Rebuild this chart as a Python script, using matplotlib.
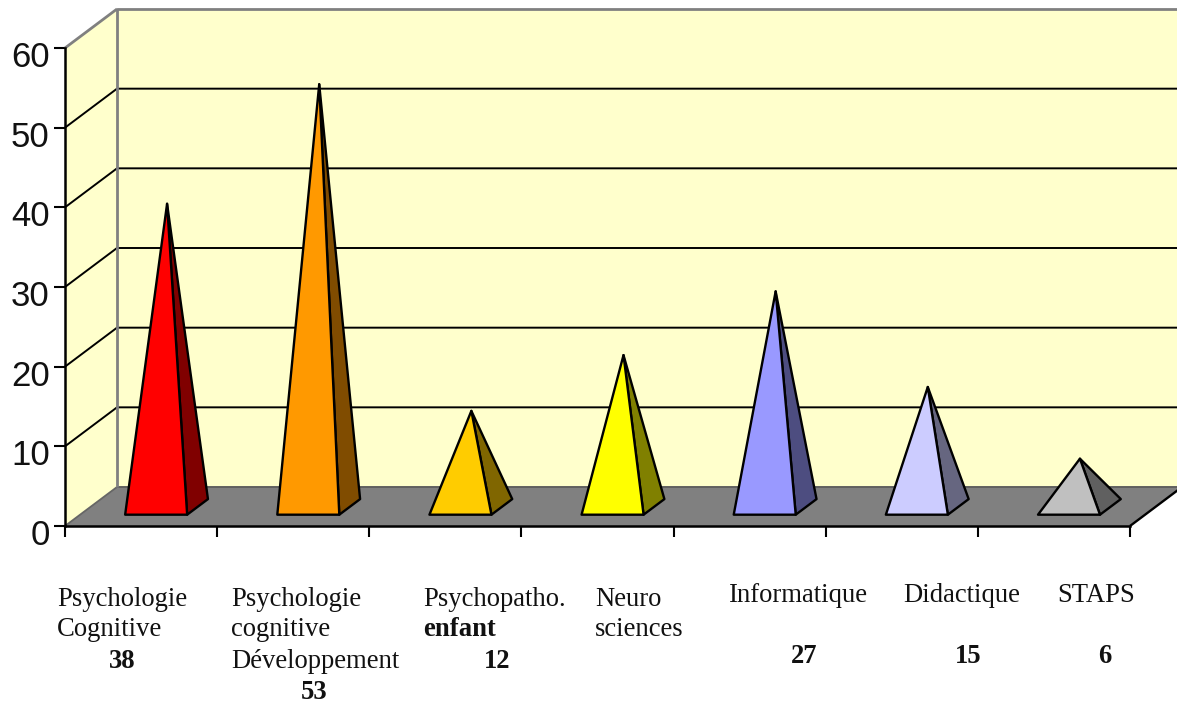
import matplotlib
matplotlib.use('Agg')
import matplotlib.pyplot as plt
from matplotlib.patches import Polygon
from matplotlib.transforms import ScaledTranslation

# values
values = [38, 53, 12, 19, 27, 15, 6]
front_colors = ['#ff0000', '#ff9900', '#ffcc00', '#ffff00', '#9999ff', '#ccccff', '#c0c0c0']
side_colors = ['#800000', '#804c00', '#806600', '#808000', '#4d4d80', '#666680', '#606060']
y_ticks = [0, 10, 20, 30, 40, 50, 60]

# label lines: text, x px, baseline px, bold
label_lines = [
    ('Psychologie', 57, 606, False), ('Cognitive', 57, 636, False), ('38', 109, 668, True),
    ('Psychologie', 231, 606, False), ('cognitive', 231, 636, False),
    ('Développement', 231, 668, False), ('53', 301, 699, True),
    ('Psychopatho.', 423, 606, False), ('enfant', 423, 636, True), ('12', 484, 668, True),
    ('Neuro', 595, 606, False), ('sciences', 595, 636, False),
    ('Informatique', 729, 602, False), ('27', 791, 663, True),
    ('Didactique', 903, 602, False), ('15', 955, 663, True),
    ('STAPS', 1057, 602, False), ('6', 1098, 663, True),
]

W, H = 1177, 704
X0, X1, Y0, Y60 = 65, 1130, 526, 48
CAT_PX = (X1 - X0) / 7
VAL_PX = (Y0 - Y60) / 60
DX = 52 / CAT_PX
DY = 39 / VAL_PX
HALF = 31 / CAT_PX
D_FRONT, D_BACK = 0.29, 0.69


def proj(c, v, d=0.0):
    return (c + d * DX, v + d * DY)


fig = plt.figure(figsize=(W / 100, H / 100), dpi=100)
ax = fig.add_axes([X0 / W, 1 - Y0 / H, (X1 - X0) / W, (Y0 - Y60) / H])
ax.set_xlim(0, 7)
ax.set_ylim(0, 60)
ax.patch.set_visible(False)

n = len(values)
# walls and floor (run past the right edge, the figure cuts them)
ax.add_patch(Polygon([proj(0, 0, 1), proj(8, 0, 1), proj(8, 60, 1), proj(0, 60, 1)],
                     fc='#ffffcc', ec='none', clip_on=False, zorder=1))
ax.add_patch(Polygon([proj(0, 0), proj(0, 0, 1), proj(0, 60, 1), proj(0, 60)],
                     fc='#ffffcc', ec='none', clip_on=False, zorder=1))
ax.add_patch(Polygon([proj(0, 0), proj(n, 0), proj(n, 0, 1), proj(8, 0, 1), proj(0, 0, 1)],
                     fc='#808080', ec='none', clip_on=False, zorder=2))


def line(pts, color, lw, z=3):
    ax.plot(*zip(*pts), color=color, lw=lw, clip_on=False, zorder=z, solid_capstyle='butt')


for v in y_ticks[1:-1]:
    line([proj(0, v), proj(0, v, 1), proj(8, v, 1)], 'black', 1.4)
line([proj(0, 0), proj(0, 0, 1)], '#666666', 1.3)
line([proj(0, 0, 1), proj(8, 0, 1)], '#606060', 1.4)
line([proj(0, 0, 1), proj(0, 60, 1), proj(8, 60, 1)], '#808080', 2.0)
line([proj(0, 60), proj(0, 60, 1)], '#808080', 2.0)
line([proj(n, 0), proj(n, 0, 1)], 'black', 1.7)

# pyramids
for i, val in enumerate(values):
    c = i + 0.5
    apex = proj(c, val, 0.5)
    fl = proj(c - HALF, 0, D_FRONT)
    fr = proj(c + HALF, 0, D_FRONT)
    br = proj(c + HALF, 0, D_BACK)
    ax.add_patch(Polygon([apex, fr, br], fc=side_colors[i], ec='black', lw=1.7,
                         joinstyle='round', clip_on=False, zorder=4))
    ax.add_patch(Polygon([apex, fl, fr], fc=front_colors[i], ec='black', lw=1.7,
                         joinstyle='round', clip_on=False, zorder=5))

for s in ['top', 'right']:
    ax.spines[s].set_visible(False)
for s in ['left', 'bottom']:
    ax.spines[s].set_linewidth(1.8)
    ax.spines[s].set_zorder(6)
ax.set_xticks(range(n + 1))
ax.set_xticklabels([])
ax.set_yticks(y_ticks)
ax.tick_params(axis='x', length=8, width=1.5, direction='out')
ax.tick_params(axis='y', length=8, width=1.5, direction='out', pad=3, labelsize=25)
shift = ScaledTranslation(0, -6 / 100, fig.dpi_scale_trans)
for t in ax.get_yticklabels():
    t.set_fontfamily('Liberation Sans')
    t.set_color('#111111')
    # labels sit a little below their ticks in the original
    t.set_transform(t.get_transform() + shift)

for txt, x, y, bold in label_lines:
    fig.text(x / W, 1 - y / H, txt, family='Liberation Serif', fontsize=19.2,
             fontweight='bold' if bold else 'normal', color='#111111', va='baseline', ha='left')

fig.savefig('out.png', dpi=100)
